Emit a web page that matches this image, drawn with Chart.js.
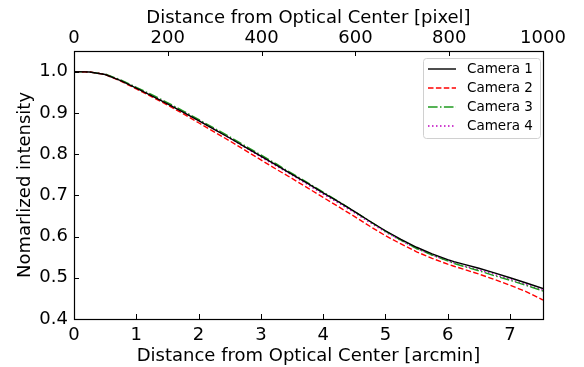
<!DOCTYPE html>
<html>
<head>
<meta charset="utf-8">
<script src="https://cdn.jsdelivr.net/npm/chart.js@4.4.1/dist/chart.umd.min.js"></script>
<style>
  html, body { margin: 0; padding: 0; background: #fff; }
  #wrap { width: 584px; height: 367px; }
</style>
</head>
<body>
<div id="wrap"><canvas id="c" width="584" height="367"></canvas></div>
<script>
// Radial distance from the optical center, in arcmin
const arcmin = [0, 0.25, 0.5, 0.75, 1, 1.25, 1.5, 1.75, 2, 2.25, 2.5, 2.75, 3, 3.25, 3.5, 3.75,
  4, 4.25, 4.5, 4.75, 5, 5.25, 5.5, 5.75, 6, 6.1, 6.25, 6.5, 6.75, 7, 7.25, 7.53];

// Normalized intensity profiles for each camera
const camera1 = [1.000, 0.999, 0.993, 0.978, 0.960, 0.941, 0.922, 0.902, 0.881, 0.860, 0.839, 0.817,
  0.795, 0.773, 0.751, 0.729, 0.706, 0.684, 0.661, 0.637, 0.614, 0.593, 0.574, 0.558, 0.544, 0.539,
  0.533, 0.523, 0.512, 0.500, 0.488, 0.474];
const camera2 = [1.000, 0.999, 0.993, 0.977, 0.958, 0.939, 0.919, 0.898, 0.876, 0.854, 0.832, 0.809,
  0.786, 0.763, 0.741, 0.718, 0.695, 0.672, 0.649, 0.625, 0.602, 0.582, 0.563, 0.547, 0.533, 0.528,
  0.521, 0.509, 0.496, 0.482, 0.467, 0.446];
const camera3 = [1.000, 0.999, 0.994, 0.980, 0.962, 0.944, 0.925, 0.905, 0.884, 0.863, 0.842, 0.820,
  0.798, 0.776, 0.753, 0.731, 0.708, 0.685, 0.661, 0.637, 0.613, 0.591, 0.571, 0.555, 0.541, 0.535,
  0.528, 0.517, 0.505, 0.494, 0.482, 0.468];
const camera4 = [1.000, 0.999, 0.994, 0.979, 0.961, 0.942, 0.923, 0.903, 0.882, 0.861, 0.839, 0.816,
  0.793, 0.771, 0.749, 0.726, 0.703, 0.681, 0.658, 0.634, 0.611, 0.590, 0.571, 0.555, 0.541, 0.536,
  0.529, 0.519, 0.508, 0.496, 0.484, 0.470];

const seriesNames = ['Camera 1', 'Camera 2', 'Camera 3', 'Camera 4'];

// Axis ranges
const xArcminMax = 7.53;
const xPixelMax = 1000;
const yMin = 0.4, yMax = 1.05;

const FONT = 'DejaVu Sans';

const pts = ys => arcmin.map((x, i) => ({ x, y: ys[i] }));

const styles = [
  { color: '#000000', dash: [] },
  { color: '#ff0000', dash: [5.5, 2.4] },
  { color: '#1f9a1f', dash: [9.6, 2.4, 1.5, 2.4] },
  { color: '#bf00bf', dash: [1.5, 2.5] }
];

const datasets = [camera1, camera2, camera3, camera4].map((ys, i) => ({
  label: seriesNames[i],
  data: pts(ys),
  borderColor: styles[i].color,
  borderDash: styles[i].dash,
  borderWidth: 1.4,
  pointRadius: 0,
  fill: false,
  tension: 0,
  xAxisID: 'x',
  yAxisID: 'y'
}));

// Frame, inward tick marks, and boxed legend inside the plot
const framePlugin = {
  id: 'frame',
  afterDatasetsDraw(chart) {
    const { ctx, chartArea: a, scales } = chart;
    ctx.save();
    ctx.strokeStyle = '#000';
    ctx.lineWidth = 1;
    ctx.setLineDash([]);
    const L = 5;
    ctx.beginPath();
    scales.x.ticks.forEach(t => {
      const px = Math.round(scales.x.getPixelForValue(t.value)) + 0.5;
      ctx.moveTo(px, a.bottom); ctx.lineTo(px, a.bottom - L);
    });
    scales.x2.ticks.forEach(t => {
      const px = Math.round(scales.x2.getPixelForValue(t.value)) + 0.5;
      ctx.moveTo(px, a.top); ctx.lineTo(px, a.top + L);
    });
    scales.y.ticks.forEach(t => {
      const py = Math.round(scales.y.getPixelForValue(t.value)) + 0.5;
      ctx.moveTo(a.left, py); ctx.lineTo(a.left + L, py);
    });
    ctx.stroke();
    ctx.lineWidth = 1.2;
    ctx.strokeRect(Math.round(a.left) + 0.5, Math.round(a.top) + 0.5,
      Math.round(a.right - a.left), Math.round(a.bottom - a.top));

    // legend
    const bx = a.right - 120, by = a.top + 7, bw = 117, bh = 80;
    ctx.fillStyle = 'rgba(255,255,255,0.85)';
    ctx.strokeStyle = '#d0d0d0';
    ctx.lineWidth = 1;
    ctx.beginPath();
    ctx.roundRect(bx + 0.5, by + 0.5, bw, bh, 3);
    ctx.fill();
    ctx.stroke();
    ctx.font = '13.5px "' + FONT + '"';
    ctx.textBaseline = 'middle';
    ctx.textAlign = 'left';
    chart.data.datasets.forEach((ds, i) => {
      const yy = by + 11 + i * 19;
      ctx.strokeStyle = ds.borderColor;
      ctx.setLineDash(ds.borderDash);
      ctx.lineWidth = 1.4;
      ctx.beginPath();
      ctx.moveTo(bx + 5, yy); ctx.lineTo(bx + 33, yy);
      ctx.stroke();
      ctx.setLineDash([]);
      ctx.fillStyle = '#000';
      ctx.fillText(ds.label, bx + 44, yy);
    });
    ctx.restore();
  }
};

const tickFont = { family: FONT, size: 18 };
const titleFont = { family: FONT, size: 18 };

new Chart(document.getElementById('c'), {
  type: 'line',
  data: { datasets },
  plugins: [framePlugin],
  options: {
    responsive: false,
    animation: false,
    layout: { padding: { left: 0, right: 41, top: 0, bottom: 0 } },
    plugins: { legend: { display: false }, tooltip: { enabled: false } },
    scales: {
      x: {
        type: 'linear', position: 'bottom',
        min: 0, max: xArcminMax,
        grid: { display: false, drawTicks: false },
        border: { display: false },
        ticks: { stepSize: 1, includeBounds: false, autoSkip: false, maxRotation: 0,
          font: tickFont, color: '#000', padding: 6 },
        title: { display: true, text: 'Distance from Optical Center [arcmin]',
          font: titleFont, color: '#000', padding: { top: 0, bottom: 0 } },
        afterFit: s => { s.height = 48; }
      },
      x2: {
        type: 'linear', position: 'top',
        min: 0, max: xPixelMax,
        grid: { display: false, drawTicks: false },
        border: { display: false },
        ticks: { stepSize: 200, includeBounds: false, autoSkip: false, maxRotation: 0,
          font: tickFont, color: '#000', padding: 2,
          callback: v => String(v) },
        title: { display: true, text: 'Distance from Optical Center [pixel]',
          font: titleFont, color: '#000', padding: { top: 8, bottom: 0 } },
        afterFit: s => { s.height = 51; }
      },
      y: {
        type: 'linear', position: 'left',
        min: yMin, max: yMax,
        grid: { display: false, drawTicks: false },
        border: { display: false },
        ticks: { stepSize: 0.1, includeBounds: false, autoSkip: false,
          font: tickFont, color: '#000', padding: 6,
          callback: v => Number(v).toFixed(1) },
        title: { display: true, text: 'Nomarlized intensity',
          font: titleFont, color: '#000', padding: { top: 15, bottom: 0 } },
        afterFit: s => { s.width = 74; }
      }
    }
  }
});
</script>
</body>
</html>
